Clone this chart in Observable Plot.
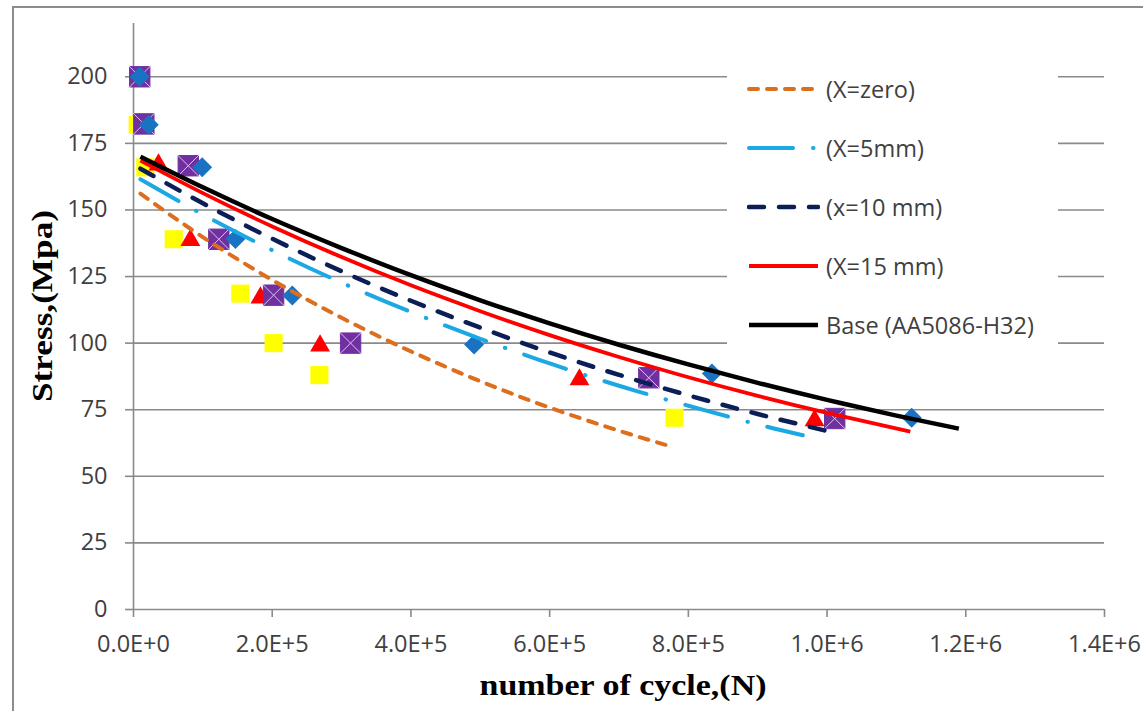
<!DOCTYPE html>
<html><head><meta charset="utf-8">
<script src="https://cdn.jsdelivr.net/npm/d3@7"></script>
<script src="https://cdn.jsdelivr.net/npm/@observablehq/plot@0.6"></script>
<style>
html,body{margin:0;padding:0;background:#fff;overflow:hidden;}
#wrap{position:relative;width:1143px;height:711px;overflow:hidden;}
#border{position:absolute;left:12px;top:6px;width:1300px;height:900px;border:2px solid #8c8c8c;box-sizing:border-box;}
#plot{position:absolute;left:0;top:0;}
#legend{position:absolute;left:727px;top:50px;width:331px;height:312px;background:#fff;}
.row{position:absolute;left:20px;height:30px;display:flex;align-items:center;font-family:"Open Sans";font-size:23.5px;color:#404040;white-space:nowrap;}
.row svg{margin-right:6px;}
</style></head><body>
<div id="wrap"><div id="border"></div><div id="plot"></div><div id="legend"></div></div>
<script>
// ---- axis ticks ----
const xTicks = [0, 2e5, 4e5, 6e5, 8e5, 1e6, 1.2e6, 1.4e6];
const xTickLabels = ["0.0E+0","2.0E+5","4.0E+5","6.0E+5","8.0E+5","1.0E+6","1.2E+6","1.4E+6"];
const yTicks = [0, 25, 50, 75, 100, 125, 150, 175, 200];
const yTickLabels = ["0","25","50","75","100","125","150","175","200"];

// ---- trend curves (cycles, stress) ----
const cyclesZero = [1e4, 1e5, 2e5, 3e5, 4e5, 5e5, 6e5, 7e5, 7.7e5];
const stressZero = [156.1, 139.8, 123.7, 109.5, 96.9, 85.7, 75.8, 67.1, 61.6];
const cycles5 = [1e4, 1e5, 2e5, 3e5, 4e5, 5e5, 6e5, 7e5, 8e5, 9e5, 9.65e5];
const stress5 = [161.5, 148.3, 134.9, 122.7, 111.7, 101.6, 92.4, 84.0, 76.5, 69.5, 65.4];
const cycles10 = [1e4, 1e5, 2e5, 3e5, 4e5, 5e5, 6e5, 7e5, 8e5, 9e5, 1.005e6];
const stress10 = [165.5, 152.5, 139.2, 127.0, 115.9, 105.8, 96.5, 88.1, 80.4, 73.4, 66.7];
const cycles15 = [1e4, 1e5, 2e5, 3e5, 4e5, 5e5, 6e5, 7e5, 8e5, 9e5, 1e6, 1.12e6];
const stress15 = [168.5, 156.3, 143.8, 132.3, 121.7, 112.0, 103.0, 94.8, 87.2, 80.2, 73.8, 66.8];
const cyclesBase = [1e4, 1e5, 2e5, 3e5, 4e5, 5e5, 6e5, 7e5, 8e5, 9e5, 1e6, 1.1e6, 1.19e6];
const stressBase = [170, 158.5, 146.6, 135.7, 125.5, 116.1, 107.4, 99.4, 92.0, 85.1, 78.7, 72.8, 67.9];

// ---- measured points ----
const yellowCycles = [6e3, 1.7e4, 5.8e4, 1.54e5, 2.02e5, 2.68e5, 7.8e5];
const yellowStress = [182, 166, 139, 118.6, 100, 88, 72];
const redCycles = [3.6e4, 8.2e4, 1.83e5, 2.69e5, 6.43e5, 9.82e5];
const redStress = [167, 138.6, 117, 99, 86.3, 71];
const purpleCycles = [9e3, 1.49e4, 7.9e4, 1.23e5, 2.02e5, 3.13e5, 7.43e5, 1.011e6];
const purpleStress = [200, 182.3, 166.6, 139, 118, 100, 87, 71.7];
const blueCycles = [9e3, 2.2e4, 9.9e4, 1.47e5, 2.29e5, 4.91e5, 8.34e5, 1.122e6];
const blueStress = [200, 182, 166, 139.1, 117.9, 99.5, 88.6, 72];

const legendLabels = ["(X=zero)", "(X=5mm)", "(x=10 mm)", "(X=15 mm)", "Base (AA5086-H32)"];

// styles
const lineStyles = [
  {stroke: "#DC6E1E", width: 4, dash: "9,9"},
  {stroke: "#1BA8E3", width: 4, dash: "44,20,0.5,20"},
  {stroke: "#0B1E57", width: 4.5, dash: "15,15"},
  {stroke: "#FF0000", width: 3.8, dash: null},
  {stroke: "#000000", width: 4.5, dash: null}
];
const curves = [[cyclesZero, stressZero], [cycles5, stress5], [cycles10, stress10], [cycles15, stress15], [cyclesBase, stressBase]]
  .map(([c, s]) => c.map((n, i) => ({n, s: s[i]})));
const pts = (c, s) => c.map((n, i) => ({n, s: s[i]}));

const grid = "#8a8a8a";
const chart = Plot.plot({
  width: 1143, height: 711,
  marginLeft: 133, marginRight: 39, marginTop: 23, marginBottom: 102,
  style: {fontFamily: "Open Sans", fontSize: "23.5px", color: "#404040", background: "transparent", overflow: "visible"},
  x: {domain: [0, 1.4e6]},
  y: {domain: [0, 220]},
  marks: [
    Plot.ruleY(yTicks.filter(d => d > 0), {stroke: grid, strokeWidth: 1.6}),
    Plot.axisY({ticks: yTicks, tickFormat: d => yTickLabels[yTicks.indexOf(d)], tickSize: 8, tickPadding: 18, stroke: grid, strokeWidth: 1.6, label: null}),
    Plot.axisX({ticks: xTicks, tickFormat: d => xTickLabels[xTicks.indexOf(d)], tickSize: 8, tickPadding: 18, stroke: grid, strokeWidth: 1.6, label: null}),
    Plot.ruleX([0], {stroke: grid, strokeWidth: 1.6}),
    Plot.ruleY([0], {stroke: grid, strokeWidth: 1.6}),
    Plot.dot(pts(yellowCycles, yellowStress), {x: "n", y: "s", symbol: "square", r: 10.2, fill: "#FFFF00", stroke: "none"}),
    Plot.dot(pts(redCycles, redStress), {x: "n", y: "s", symbol: "triangle2", r: 9.5, fill: "#FF0000", stroke: "none"}),
    Plot.dot(pts(purpleCycles, purpleStress), {x: "n", y: "s", symbol: "square", r: 11.5, fill: "#7030A0", stroke: "#7030A0", strokeWidth: 1, strokeLinejoin: "round"}),
    Plot.dot(pts(purpleCycles, purpleStress), {x: "n", y: "s", symbol: "times", r: 10, stroke: "#d8c4ec", strokeWidth: 1}),
    Plot.dot(pts(blueCycles, blueStress), {x: "n", y: "s", symbol: "diamond2", r: 9, fill: "#1A72C2", stroke: "none"}),
    ...curves.map((d, i) => Plot.line(d, {x: "n", y: "s", curve: "natural", stroke: lineStyles[i].stroke, strokeWidth: lineStyles[i].width, strokeDasharray: lineStyles[i].dash, strokeLinecap: lineStyles[i].dash ? "round" : "butt"}))
  ]
});
document.getElementById("plot").appendChild(chart);

// axis titles
const svg = d3.select(chart);
svg.append("text").text("number of cycle,(N)")
  .attr("x", 623).attr("y", 695).attr("text-anchor", "middle")
  .attr("textLength", 287).attr("lengthAdjust", "spacingAndGlyphs")
  .style("font-family", "'Liberation Serif', 'Times New Roman', serif").style("font-weight", "bold").style("font-size", "29px").attr("fill", "#000");
svg.append("text").text("Stress,(Mpa)")
  .attr("transform", "translate(52,306) rotate(-90)").attr("text-anchor", "middle")
  .attr("textLength", 192).attr("lengthAdjust", "spacingAndGlyphs")
  .style("font-family", "'Liberation Serif', 'Times New Roman', serif").style("font-weight", "bold").style("font-size", "29px").attr("fill", "#000");

// legend
const legend = d3.select("#legend");
legendLabels.forEach((lab, i) => {
  const row = legend.append("div").attr("class", "row").style("top", (24 + i * 59) + "px");
  const s = row.append("svg").attr("width", 73).attr("height", 30);
  const st = lineStyles[i];
  s.append("line").attr("x1", 2).attr("x2", 71).attr("y1", 15).attr("y2", 15)
    .attr("stroke", st.stroke).attr("stroke-width", st.width)
    .attr("stroke-dasharray", st.dash).attr("stroke-linecap", st.dash ? "round" : "butt");
  row.append("span").text(lab);
});
</script>
</body></html>
